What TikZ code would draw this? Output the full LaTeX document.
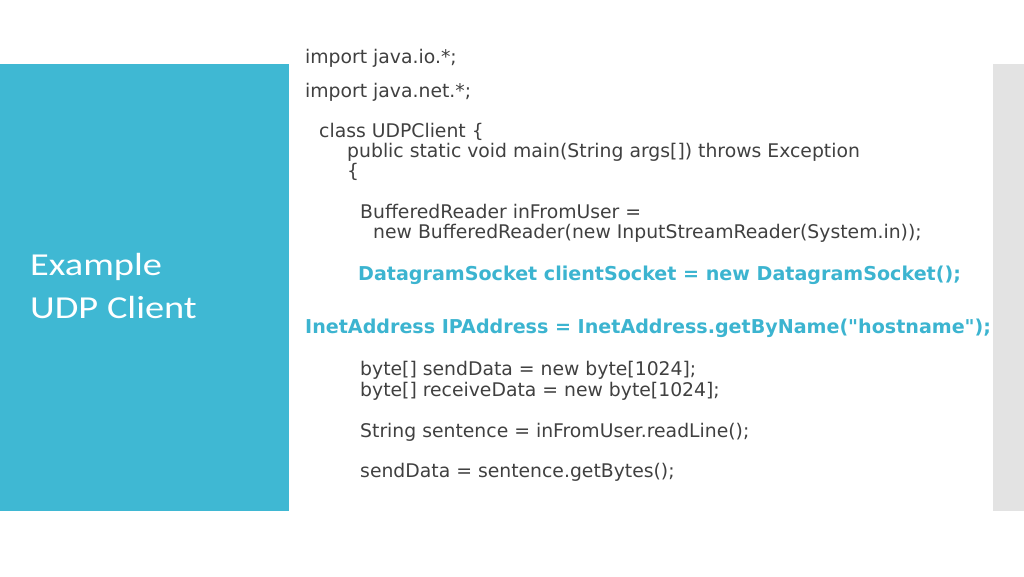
\documentclass[tikz,border=0pt]{standalone}
\usepackage{fontspec}
\setmainfont{DejaVu Sans}
\newfontfamily\titlefont[FakeStretch=1.2]{Carlito}
\usetikzlibrary{positioning}
\definecolor{slideblue}{HTML}{3FB8D3}
\definecolor{sidegray}{HTML}{E3E3E3}
\definecolor{codegray}{HTML}{404040}
\definecolor{keyblue}{HTML}{3CB4D0}

\begin{document}
\begin{tikzpicture}[x=1pt,y=-1pt,
  code/.style={anchor=base west,inner sep=0pt,text=codegray,font=\fontsize{18.8}{20}\selectfont},
  key/.style={code,text=keyblue,font=\fontsize{19.1}{20}\selectfont\bfseries},
  title/.style={anchor=base west,inner sep=0pt,text=white,font=\titlefont\fontsize{32}{36}\selectfont}]
  \useasboundingbox (0,0) rectangle (1024,576);
  \fill[slideblue] (0,64) rectangle (289,511);
  \fill[sidegray] (993,64) rectangle (1024,511);
  \node[title] (title1) at (30,275) {Example};
  \node[title] (title2) at (30,318) {UDP Client};
  % code lines
  \node[code] (imp_io) at (305,63) {import java.io.*;};
  \node[code] (imp_net) at (305,97) {import java.net.*;};
  \node[code] (cls) at (319,137) {class UDPClient \{};
  \node[code] (main) at (347,157) {public static void main(String args[]) throws Exception};
  \node[code] (brace) at (347,177) {\{};
  \node[code] (rd1) at (360,218) {BufferedReader inFromUser =};
  \node[code] (rd2) at (373,238) {new BufferedReader(new InputStreamReader(System.in));};
  \node[key] (sock) at (358,280) {DatagramSocket clientSocket = new DatagramSocket();};
  \node[key] (addr) at (305,333) {InetAddress IPAddress = InetAddress.getByName(\textquotedbl hostname\textquotedbl);};
  \node[code] (snd) at (360,375) {byte[] sendData = new byte[1024];};
  \node[code] (rcv) at (360,396) {byte[] receiveData = new byte[1024];};
  \node[code] (sent) at (360,437) {String sentence = inFromUser.readLine();};
  \node[code] (bytes) at (360,477) {sendData = sentence.getBytes();};
\end{tikzpicture}
\end{document}
